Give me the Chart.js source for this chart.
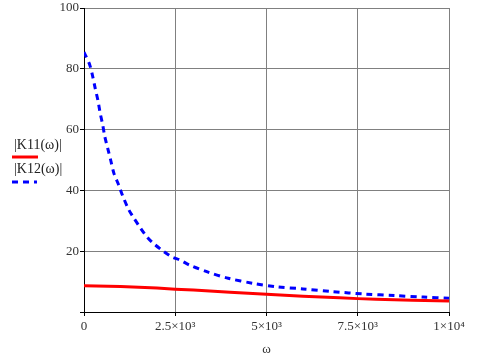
<!DOCTYPE html>
<html>
<head>
<meta charset="utf-8">
<script src="https://cdn.jsdelivr.net/npm/chart.js@4"></script>
<style>
  html, body { margin: 0; padding: 0; background: #fff; }
  #wrap { width: 501px; height: 361px; }
</style>
</head>
<body>
<div id="wrap"><canvas id="plot" width="501" height="361"></canvas></div>
<script>
// values
const omegaK11 = [0, 1000, 2000, 2500, 3000, 4000, 5000, 6000, 7000, 7500, 8000, 9000, 10000];
const k11Values = [8.6, 8.4, 7.9, 7.5, 7.2, 6.5, 5.8, 5.2, 4.7, 4.4, 4.2, 3.9, 3.6];

const omegaK12 = [0, 160, 240, 310, 385, 440, 510, 570, 650, 730, 820, 950, 1060, 1220, 1350, 1520,
  1720, 1900, 2130, 2400, 2630, 2900, 3400, 3950, 4640, 5280, 6000, 6800, 7700, 8500, 9300, 10000];
const k12Values = [85.5, 81.2, 77.4, 73.4, 69.4, 65.6, 61.7, 57.7, 53.8, 50, 45.6, 41.8, 38.2, 33.8, 31.2, 28.1,
  24.8, 22.6, 20.4, 18.2, 17.1, 15.4, 13.1, 11.1, 9.4, 8.3, 7.6, 6.7, 5.9, 5.4, 4.9, 4.5];

const xTickLabels = ['0', '2.5×10³', '5×10³', '7.5×10³', '1×10⁴'];
const seriesNames = ['|K11(ω)|', '|K12(ω)|'];

const serif = '"Liberation Serif", "Times New Roman", serif';

const sideLegend = {
  id: 'sideLegend',
  afterDraw(chart) {
    const ctx = chart.ctx;
    const ds = chart.data.datasets;
    ctx.save();
    ctx.font = '14px ' + serif;
    ctx.fillStyle = '#222';
    ctx.textBaseline = 'middle';
    ctx.textAlign = 'left';
    ctx.fillText(ds[0].label, 14, 145);
    ctx.fillText(ds[1].label, 14, 169);
    ctx.lineWidth = 3;
    ctx.strokeStyle = ds[0].borderColor;
    ctx.beginPath(); ctx.moveTo(12, 157); ctx.lineTo(38, 157); ctx.stroke();
    ctx.strokeStyle = ds[1].borderColor;
    ctx.setLineDash(ds[1].borderDash);
    ctx.beginPath(); ctx.moveTo(12, 182); ctx.lineTo(37, 182); ctx.stroke();
    ctx.restore();
  }
};

new Chart(document.getElementById('plot'), {
  type: 'line',
  data: {
    datasets: [
      {
        label: seriesNames[0],
        data: omegaK11.map((w, i) => ({ x: w, y: k11Values[i] })),
        borderColor: '#ff0000',
        borderWidth: 3,
        pointRadius: 0,
        tension: 0
      },
      {
        label: seriesNames[1],
        data: omegaK12.map((w, i) => ({ x: w, y: k12Values[i] })),
        borderColor: '#0000ff',
        borderWidth: 3,
        borderDash: [6, 5],
        pointRadius: 0,
        tension: 0.3
      }
    ]
  },
  options: {
    responsive: false,
    animation: false,
    devicePixelRatio: 1,
    layout: { padding: { left: 0, top: 8, right: 52, bottom: 0 } },
    plugins: { legend: { display: false }, tooltip: { enabled: false } },
    scales: {
      x: {
        type: 'linear',
        min: 0,
        max: 10000,
        ticks: {
          stepSize: 2500,
          maxRotation: 0,
          padding: 3,
          color: '#333',
          font: { family: serif, size: 13 },
          callback: (v) => xTickLabels[Math.round(v / 2500)]
        },
        grid: { color: '#808080', lineWidth: 1, tickLength: 4, tickColor: '#000' },
        border: { color: '#000', width: 1 },
        title: { display: true, text: 'ω', color: '#333', font: { family: serif, size: 13 }, padding: { top: 0, bottom: 4 } },
        afterFit(scale) { scale.height = 49; scale.paddingLeft = 0; scale.paddingRight = 0; }
      },
      y: {
        min: 0,
        max: 100,
        ticks: {
          stepSize: 20,
          padding: 1,
          color: '#333',
          font: { family: serif, size: 13 },
          callback: (v) => (v === 0 ? '' : String(v))
        },
        grid: { color: '#808080', lineWidth: 1, tickLength: 4, tickColor: '#000' },
        border: { color: '#000', width: 1 },
        afterFit(scale) { scale.width = 84; scale.paddingTop = 0; scale.paddingBottom = 0; }
      }
    }
  },
  plugins: [sideLegend]
});
</script>
</body>
</html>
